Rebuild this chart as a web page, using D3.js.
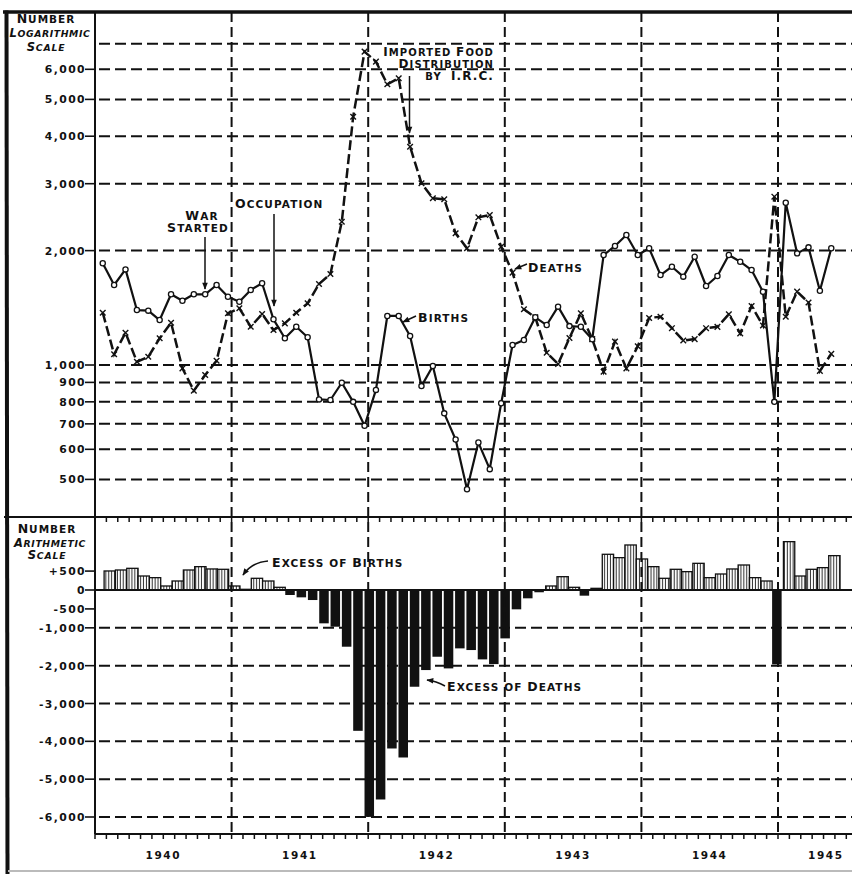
<!DOCTYPE html>
<html>
<head>
<meta charset="utf-8">
<script src="https://cdn.jsdelivr.net/npm/d3@7"></script>
<style>
  html, body { margin: 0; padding: 0; background: #fff; }
  svg { display: block; }
  text { font-family: "DejaVu Sans", Verdana, sans-serif; font-weight: bold; fill: #111; white-space: pre; }
</style>
</head>
<body>
<svg id="chart" width="852" height="874"></svg>
<script>
// Monthly births and deaths, January 1940 to May 1945 (index 0 = January 1940)
const months = d3.range(65);

const births = [
  1852, 1624, 1785, 1395, 1390, 1313, 1535, 1476, 1535, 1535, 1624, 1512,
  1467, 1576, 1641, 1319, 1176, 1261, 1183,  812,  809,  898,  800,  692,
   860, 1346, 1346, 1192,  880,  994,  746,  637,  471,  625,  532,  793,
  1129, 1164, 1335, 1274, 1424, 1266, 1261, 1169, 1947, 2057, 2198, 1947,
  2028, 1725, 1814, 1708, 1927, 1614, 1715, 1947, 1870, 1778, 1559,  800,
  2674, 1967, 2040, 1568, 2028
];

const deaths = [
  1373, 1067, 1216, 1020, 1051, 1176, 1292,  980,  856,  941, 1026, 1368,
  1410, 1261, 1362, 1236, 1287, 1373, 1453, 1634, 1736, 2383, 4502, 6677,
  6284, 5479, 5682, 3753, 3008, 2746, 2730, 2221, 2028, 2447, 2481, 2048,
  1750, 1402, 1335, 1077, 1006, 1178, 1368, 1170,  960, 1152,  980, 1120,
  1330, 1340, 1250, 1160, 1170, 1250, 1260, 1360, 1211, 1430, 1270, 2773,
  1340, 1560, 1460,  965, 1070
];

// Excess of births over deaths (negative = excess of deaths)
const excess = [
   503,  529,  573,  370,  326,  106,  238,  529,  617,  556,  547,  106,
    18,  309,  238,   71, -132, -194, -265, -881, -970, -1499, -3722, -5997,
  -5537, -4189, -4427, -2557, -2116, -1764, -2072, -1543, -1587, -1834, -1958, -1279,
  -511, -220,  -60,  106,  352,   71, -150,   44,  944,  855, 1190,  820,
   617,  309,  547,  485,  705,  326,  423,  556,  661,  326,  238, -1966,
  1278,  370,  547,  591,  908
];

const logTicks      = [6000, 5000, 4000, 3000, 2000, 1000, 900, 800, 700, 600, 500];
const logTickLabels = ['6,000', '5,000', '4,000', '3,000', '2,000', '1,000', '900', '800', '700', '600', '500'];
const logGrid       = [7000, 6000, 5000, 4000, 3000, 2000, 1000, 900, 800, 700, 600, 500];

const linTicks      = [500, 0, -500, -1000, -2000, -3000, -4000, -5000, -6000];
const linTickLabels = ['+500', '0', '-500', '-1,000', '-2,000', '-3,000', '-4,000', '-5,000', '-6,000'];
const linGrid       = [-1000, -2000, -3000, -4000, -5000, -6000];

const yearLabels = ['1940', '1941', '1942', '1943', '1944', '1945'];

// ---- layout ----
const W = 852;
const axisX = 95, topY = 12, splitY = 517, bottomY = 834;

const svg = d3.select('#chart');

// month scale: 0 = start of January 1940, 60 = start of January 1945
const xMonth = d3.scaleLinear().domain([0, 60]).range([axisX, 778]);
const xPt = i => xMonth(i + 0.68);
const xBar = d3.scaleBand().domain(months).range([xMonth(0.8), xMonth(65.45)]).paddingInner(0);

const yLog = d3.scaleLog().domain([500, 6000]).range([479.4, 69.3]);
const yLin = d3.scaleLinear().domain([0, -6000]).range([590, 817]);

const defs = svg.append('defs');
const hatch = defs.append('pattern')
  .attr('id', 'hatch').attr('patternUnits', 'userSpaceOnUse')
  .attr('width', 2.9).attr('height', 10);
hatch.append('rect').attr('width', 2.9).attr('height', 10).attr('fill', '#fff');
hatch.append('line').attr('x1', 1.4).attr('x2', 1.4).attr('y1', 0).attr('y2', 10)
  .attr('stroke', '#111').attr('stroke-width', 0.9);

defs.append('marker')
  .attr('id', 'arrow').attr('viewBox', '0 0 10 10')
  .attr('refX', 9).attr('refY', 5)
  .attr('markerWidth', 9).attr('markerHeight', 7)
  .attr('markerUnits', 'userSpaceOnUse')
  .attr('orient', 'auto')
  .append('path').attr('d', 'M0,1 L10,5 L0,9 Z').attr('fill', '#111');

const gridDash = '11,5';

// ---- text helper: capitals large, lower-case letters as small capitals ----
function capsText(x, y, str, big, small, opts = {}) {
  const t = svg.append('text')
    .attr('x', x).attr('y', y)
    .attr('text-anchor', opts.anchor || 'start')
    .attr('letter-spacing', opts.spacing != null ? opts.spacing : 1.1);
  if (opts.italic) t.attr('font-style', 'italic');
  const runs = [];
  for (const ch of str) {
    const isSmall = ch === ' ' ? (runs.length ? runs[runs.length - 1].small : false)
                               : ch !== ch.toUpperCase();
    if (runs.length && runs[runs.length - 1].small === isSmall) runs[runs.length - 1].t += ch;
    else runs.push({ small: isSmall, t: ch });
  }
  runs.forEach(r => t.append('tspan')
    .attr('font-size', r.small ? small : big)
    .text(r.small ? r.t.toUpperCase() : r.t));
  return t;
}

// ---- upper panel: logarithmic grid ----
const upper = svg.append('g');
upper.selectAll('line.grid').data(logGrid).join('line')
  .attr('x1', axisX + 4).attr('x2', W)
  .attr('y1', d => yLog(d)).attr('y2', d => yLog(d))
  .attr('stroke', '#111').attr('stroke-width', 2).attr('stroke-dasharray', gridDash);

upper.selectAll('line.tick').data(logTicks).join('line')
  .attr('x1', 85).attr('x2', axisX)
  .attr('y1', d => yLog(d)).attr('y2', d => yLog(d))
  .attr('stroke', '#111').attr('stroke-width', 1.6);

upper.selectAll('text.tick').data(logTicks).join('text')
  .attr('x', 86).attr('y', d => yLog(d) + 4)
  .attr('text-anchor', 'end').attr('font-size', 10.8).attr('letter-spacing', 1.4)
  .text((d, i) => logTickLabels[i]);

// ---- lower panel: arithmetic grid ----
const lower = svg.append('g');
lower.selectAll('line.grid').data(linGrid).join('line')
  .attr('x1', axisX + 4).attr('x2', W)
  .attr('y1', d => yLin(d)).attr('y2', d => yLin(d))
  .attr('stroke', '#111').attr('stroke-width', 2).attr('stroke-dasharray', gridDash);

lower.selectAll('line.tick').data(linTicks).join('line')
  .attr('x1', 85).attr('x2', axisX)
  .attr('y1', d => yLin(d)).attr('y2', d => yLin(d))
  .attr('stroke', '#111').attr('stroke-width', 1.6);

lower.selectAll('text.tick').data(linTicks).join('text')
  .attr('x', 86).attr('y', d => yLin(d) + 4)
  .attr('text-anchor', 'end').attr('font-size', 10.8).attr('letter-spacing', 1.4)
  .text((d, i) => linTickLabels[i]);

// ---- year boundary lines ----
const yearStarts = d3.range(1, 6).map(k => k * 12);
svg.selectAll('line.year').data(yearStarts).join('line')
  .attr('x1', d => xMonth(d)).attr('x2', d => xMonth(d))
  .attr('y1', topY).attr('y2', bottomY)
  .attr('stroke', '#111').attr('stroke-width', 2).attr('stroke-dasharray', '10,5');

// ---- bars: excess of births / deaths ----
lower.selectAll('rect.bar').data(excess).join('rect')
  .attr('x', (d, i) => xBar(i))
  .attr('width', (d) => d >= 0 ? xBar.bandwidth() : xBar.bandwidth() - 1.8)
  .attr('y', d => d >= 0 ? yLin(d) : yLin(0))
  .attr('height', d => Math.abs(yLin(d) - yLin(0)))
  .attr('fill', d => d >= 0 ? 'url(#hatch)' : '#111')
  .attr('stroke', d => d >= 0 ? '#111' : 'none')
  .attr('stroke-width', 1.3);

// ---- births line ----
const births_line = d3.line().x((d, i) => xPt(i)).y(d => yLog(d));
upper.append('path').datum(births)
  .attr('d', births_line)
  .attr('fill', 'none').attr('stroke', '#111').attr('stroke-width', 2.2)
  .attr('stroke-linejoin', 'round');

// ---- deaths line ----
const deaths_line = d3.line().x((d, i) => xPt(i)).y(d => yLog(d));
upper.append('path').datum(deaths)
  .attr('d', deaths_line)
  .attr('fill', 'none').attr('stroke', '#111').attr('stroke-width', 2.5)
  .attr('stroke-dasharray', '10,4');

upper.selectAll('path.dmark').data(deaths).join('path')
  .attr('d', (d, i) => {
    const x = xPt(i), y = yLog(d), s = 2.8;
    return `M${x - s},${y - s}L${x + s},${y + s}M${x - s},${y + s}L${x + s},${y - s}`;
  })
  .attr('stroke', '#111').attr('stroke-width', 1.4);

upper.selectAll('circle.bmark').data(births).join('circle')
  .attr('cx', (d, i) => xPt(i)).attr('cy', d => yLog(d))
  .attr('r', 2.6)
  .attr('fill', '#fff').attr('stroke', '#111').attr('stroke-width', 1.3);

// ---- axes and frame ----
const frame = svg.append('g').attr('stroke', '#111').attr('fill', 'none');
frame.append('line').attr('x1', axisX).attr('x2', axisX).attr('y1', topY).attr('y2', bottomY).attr('stroke-width', 2);
frame.append('line').attr('x1', 4).attr('x2', W).attr('y1', splitY).attr('y2', splitY).attr('stroke-width', 2.2);
frame.append('line').attr('x1', axisX).attr('x2', W).attr('y1', yLin(0)).attr('y2', yLin(0)).attr('stroke-width', 2);
frame.append('line').attr('x1', axisX).attr('x2', W).attr('y1', bottomY).attr('y2', bottomY).attr('stroke-width', 2.2);
frame.append('line').attr('x1', 3).attr('x2', W).attr('y1', topY).attr('y2', topY).attr('stroke-width', 3.5);
frame.append('line').attr('x1', 6.5).attr('x2', 7.5).attr('y1', topY - 1.5).attr('y2', 874).attr('stroke-width', 4);
frame.append('line').attr('x1', 8).attr('x2', W).attr('y1', 871).attr('y2', 871)
  .attr('stroke', '#bbb').attr('stroke-width', 2);

// month ticks on the panel divider and on the bottom axis
const monthTicks = d3.range(0, 67);
frame.selectAll('line.mt1').data(monthTicks).join('line')
  .attr('x1', d => xMonth(d)).attr('x2', d => xMonth(d))
  .attr('y1', splitY).attr('y2', splitY + 5).attr('stroke-width', 1.5);
frame.selectAll('line.mt2').data(monthTicks).join('line')
  .attr('x1', d => xMonth(d)).attr('x2', d => xMonth(d))
  .attr('y1', bottomY).attr('y2', bottomY + 5).attr('stroke-width', 1.5);

// year labels
svg.selectAll('text.year').data(yearLabels).join('text')
  .attr('x', (d, i) => Math.min(xMonth(i * 12 + 6), xMonth(64.2)))
  .attr('y', 859)
  .attr('text-anchor', 'middle').attr('font-size', 10.5).attr('letter-spacing', 1.6)
  .text(d => d);

// ---- panel titles ----
capsText(46, 23, 'Number', 12.5, 10.5, { anchor: 'middle', spacing: 1 });
capsText(50, 37, 'Logarithmic', 11.5, 9.3, { anchor: 'middle', italic: true, spacing: 0.6 });
capsText(46, 51, 'Scale', 11.5, 9.3, { anchor: 'middle', italic: true, spacing: 0.8 });

capsText(47, 533, 'Number', 12.5, 10.5, { anchor: 'middle', spacing: 1 });
capsText(50, 547, 'Arithmetic', 11.5, 9.3, { anchor: 'middle', italic: true, spacing: 0.6 });
capsText(47, 559, 'Scale', 11.5, 9.3, { anchor: 'middle', italic: true, spacing: 0.8 });

// ---- annotations ----
const notes = svg.append('g').attr('stroke', '#111').attr('fill', 'none').attr('stroke-width', 1.5);
const BIG = 12.5, SMALL = 10.5;

capsText(202, 220, 'War', BIG, SMALL, { anchor: 'middle' });
capsText(198, 232, 'Started', BIG, SMALL, { anchor: 'middle' });
notes.append('line').attr('x1', 205).attr('x2', 205).attr('y1', 237).attr('y2', 289).attr('marker-end', 'url(#arrow)');

capsText(235, 208, 'Occupation', BIG, SMALL);
notes.append('line').attr('x1', 274).attr('x2', 274).attr('y1', 214).attr('y2', 306).attr('marker-end', 'url(#arrow)');

capsText(494, 56, 'Imported Food', 12, 10, { anchor: 'end' });
capsText(494, 68, 'Distribution', 12, 10, { anchor: 'end' });
capsText(494, 80, 'by  I.R.C.', 12, 10, { anchor: 'end' });
notes.append('line').attr('x1', 409.5).attr('x2', 409.5).attr('y1', 76).attr('y2', 133).attr('marker-end', 'url(#arrow)');

capsText(528, 272, 'Deaths', BIG, SMALL);
notes.append('path').attr('d', 'M527,264 L515,269').attr('marker-end', 'url(#arrow)');

capsText(418, 322, 'Births', BIG, SMALL);
notes.append('path').attr('d', 'M416,316 L403,322').attr('marker-end', 'url(#arrow)');

capsText(272, 567, 'Excess of Births', BIG, SMALL);
notes.append('path').attr('d', 'M268,561 Q252,562 243,575').attr('marker-end', 'url(#arrow)');

capsText(447, 691, 'Excess of Deaths', BIG, SMALL);
notes.append('path').attr('d', 'M445,686 Q436,681 427,680').attr('marker-end', 'url(#arrow)');
</script>
</body>
</html>
